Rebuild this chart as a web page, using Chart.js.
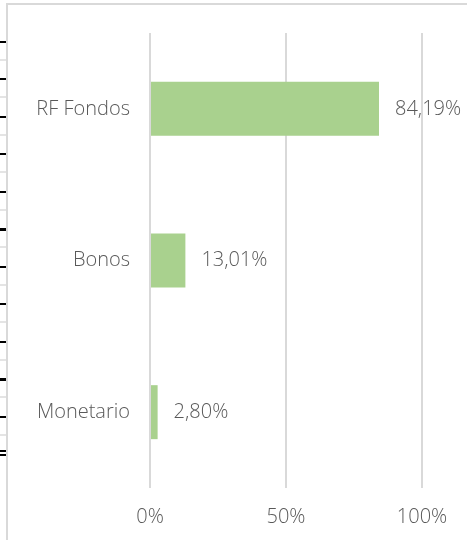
<!DOCTYPE html>
<html lang="es">
<head>
  <meta charset="UTF-8" />
  <title>Distribución</title>
  <script src="https://cdn.jsdelivr.net/npm/chart.js"></script>
  <style>
    * { box-sizing: border-box; }
    body {
      margin: 0;
      background: #ffffff;
    }
    .wrap {
      position: relative;
      width: 467px;
      height: 540px;
      overflow: hidden;
    }
    /* marco del gráfico, recortado */
    .marco {
      position: absolute;
      left: 6px;
      top: 3px;
      width: 470px;
      height: 545px;
      border-top: 2px solid #d9d9d9;
      border-left: 2px solid #d9d9d9;
    }
    /* marcas del gráfico vecino, cortadas en el borde */
    .marcas {
      position: absolute;
      left: 0;
      top: 41px;
      width: 6px;
      height: 396px;
      background: repeating-linear-gradient(to bottom,
        #000 0, #000 2px, transparent 2px, transparent 18px,
        #e4e4e4 18px, #e4e4e4 20px, transparent 20px, transparent 37.5px);
    }
    .marcas2 {
      position: absolute;
      left: 0;
      top: 450px;
      width: 6px;
      height: 6px;
      border-top: 2px solid #000;
      border-bottom: 2px solid #000;
    }
    canvas { position: absolute; left: 0; top: 0; }
  </style>
</head>
<body>
  <div class="wrap">
    <div class="marco"></div>
    <div class="marcas"></div>
    <div class="marcas2"></div>
    <canvas id="grafico" width="467" height="540"></canvas>
  </div>

  <script>
    const categorias = ['RF Fondos', 'Bonos', 'Monetario'];
    const valores = [84.19, 13.01, 2.80];
    const ticksX = [0, 50, 100];

    const colorTexto = '#595959';
    const fuente = { family: "'Open Sans', sans-serif", size: 20, weight: 300 };

    // etiquetas de valor al final de cada barra
    const etiquetas = {
      id: 'etiquetas',
      afterDatasetsDraw(chart) {
        const ctx = chart.ctx;
        const meta = chart.getDatasetMeta(0);
        ctx.save();
        ctx.font = fuente.weight + ' ' + fuente.size + 'px ' + fuente.family;
        ctx.fillStyle = colorTexto;
        ctx.textAlign = 'left';
        ctx.textBaseline = 'middle';
        meta.data.forEach((barra, i) => {
          const texto = valores[i].toFixed(2).replace('.', ',') + '%';
          ctx.fillText(texto, barra.x + 16, barra.y);
        });
        ctx.restore();
      }
    };

    new Chart(document.getElementById('grafico'), {
      type: 'bar',
      data: {
        labels: categorias,
        datasets: [{
          data: valores,
          backgroundColor: '#a9d18e',
          categoryPercentage: 1,
          barPercentage: 0.356
        }]
      },
      options: {
        indexAxis: 'y',
        responsive: false,
        animation: false,
        layout: { padding: { top: 33, right: 45, left: 0, bottom: 0 } },
        plugins: {
          legend: { display: false },
          tooltip: { enabled: false }
        },
        scales: {
          x: {
            min: 0,
            max: 100,
            afterBuildTicks(scale) {
              scale.ticks = ticksX.map(v => ({ value: v }));
            },
            afterFit(scale) { scale.height = 52; },
            grid: { color: '#d9d9d9', lineWidth: 2, drawTicks: false },
            border: { display: false },
            ticks: {
              color: colorTexto,
              font: fuente,
              padding: 17,
              callback: v => v + '%'
            }
          },
          y: {
            afterFit(scale) { scale.width = 150; },
            grid: { display: false, drawTicks: false },
            border: { display: false },
            ticks: { color: colorTexto, font: fuente, padding: 20 }
          }
        }
      },
      plugins: [etiquetas]
    });
  </script>
</body>
</html>
